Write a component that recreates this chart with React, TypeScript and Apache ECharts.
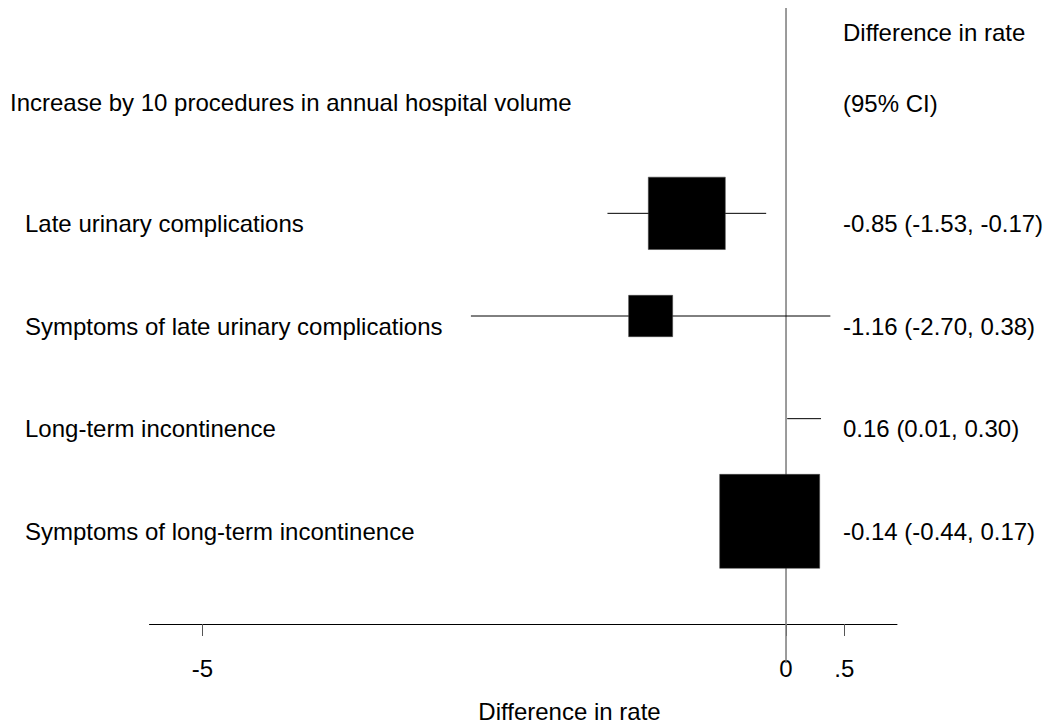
import React, { useEffect, useRef } from "react";
import * as echarts from "echarts";

const labels = [
  "Late urinary complications",
  "Symptoms of late urinary complications",
  "Long-term incontinence",
  "Symptoms of long-term incontinence",
];
const estimates = [-0.85, -1.16, 0.16, -0.14];
const lower = [-1.53, -2.7, 0.01, -0.44];
const upper = [-0.17, 0.38, 0.3, 0.17];
// relative weights (box area, largest = 100)
const weights = [59.3, 19.4, 0, 100];
const xTicks = [-5, 0, 0.5];
const headerLeft = "Increase by 10 procedures in annual hospital volume";
const headerRight1 = "Difference in rate";
const headerRight2 = "(95% CI)";
const axisTitle = "Difference in rate";

const FONT = "'Liberation Sans', Arial, Helvetica, sans-serif";
const FS = 24;

export default function App() {
  const ref = useRef<HTMLDivElement>(null);
  useEffect(() => {
    if (!ref.current) return;
    const chart = echarts.init(ref.current, null, { renderer: "svg" });
    const rows = labels.map((_, i) => [estimates[i], i + 1, lower[i], upper[i], weights[i]]);
    const fmt = (v: number) => v.toFixed(2);
    const txt = (x: number, y: number, text: string, align = "left") => ({
      type: "text",
      x,
      y,
      style: { text, fontSize: FS, fontFamily: FONT, fill: "#000", verticalAlign: "middle", align },
    });
    chart.setOption({
      animation: false,
      backgroundColor: "#fff",
      textStyle: { fontFamily: FONT },
      grid: { left: 149.5, right: 150, top: 8, bottom: 101, containLabel: false },
      xAxis: {
        type: "value",
        min: -5.454,
        max: 0.951,
        splitLine: { show: false },
        axisLine: { show: true, onZero: false, lineStyle: { color: "#000", width: 1 } },
        axisTick: {
          show: true,
          customValues: xTicks,
          length: 12,
          lineStyle: { color: "#555", width: 1 },
        },
        axisLabel: {
          customValues: xTicks,
          formatter: (v: number) => (v === 0.5 ? ".5" : String(v)),
          fontSize: FS,
          color: "#000",
          fontFamily: FONT,
          margin: 32,
        },
      },
      yAxis: { type: "value", min: -1, max: 5, inverse: true, show: false },
      graphic: [
        txt(10, 102, headerLeft),
        txt(843, 32, headerRight1),
        txt(843, 103, headerRight2),
        txt(569.5, 711, axisTitle, "center"),
      ],
      series: [
        {
          type: "custom",
          clip: false,
          data: [[0]],
          encode: { x: 0 },
          renderItem: (params: any, api: any) => {
            const top = api.coord([0, -1]);
            const bot = api.coord([0, 5]);
            return {
              type: "line",
              shape: { x1: top[0], y1: top[1], x2: top[0], y2: bot[1] + 39 },
              style: { stroke: "#7a7a7a", lineWidth: 1.5 },
            };
          },
          z: 1,
        },
        {
          type: "custom",
          clip: false,
          data: rows,
          encode: { x: [0, 2, 3], y: 1 },
          renderItem: (params: any, api: any) => {
            const i = params.dataIndex;
            const est = api.value(0);
            const row = api.value(1);
            const lo = api.value(2);
            const hi = api.value(3);
            const w = api.value(4);
            const c = api.coord([est, row]);
            const l = api.coord([lo, row]);
            const h = api.coord([hi, row]);
            const side = Math.sqrt(w / 100) * 100;
            const bw = side;
            const bh = side * 0.94;
            const children: any[] = [
              {
                type: "line",
                shape: { x1: l[0], y1: c[1], x2: h[0], y2: c[1] },
                style: { stroke: "#000", lineWidth: 1 },
              },
            ];
            if (side > 0) {
              children.push({
                type: "rect",
                shape: { x: c[0] - bw / 2, y: c[1] - bh / 2, width: bw, height: bh },
                style: { fill: "#000", stroke: "#444", lineWidth: 0.5 },
              });
            }
            children.push(txt(25, c[1] + 10, labels[i]));
            children.push(txt(843, c[1] + 10, `${fmt(est)} (${fmt(lo)}, ${fmt(hi)})`));
            return { type: "group", children };
          },
          z: 2,
        },
      ],
    });
    return () => chart.dispose();
  }, []);
  return (
    <div
      ref={ref}
      style={{ position: "fixed", left: 0, top: 0, width: 1047, height: 725, background: "#fff" }}
    />
  );
}
